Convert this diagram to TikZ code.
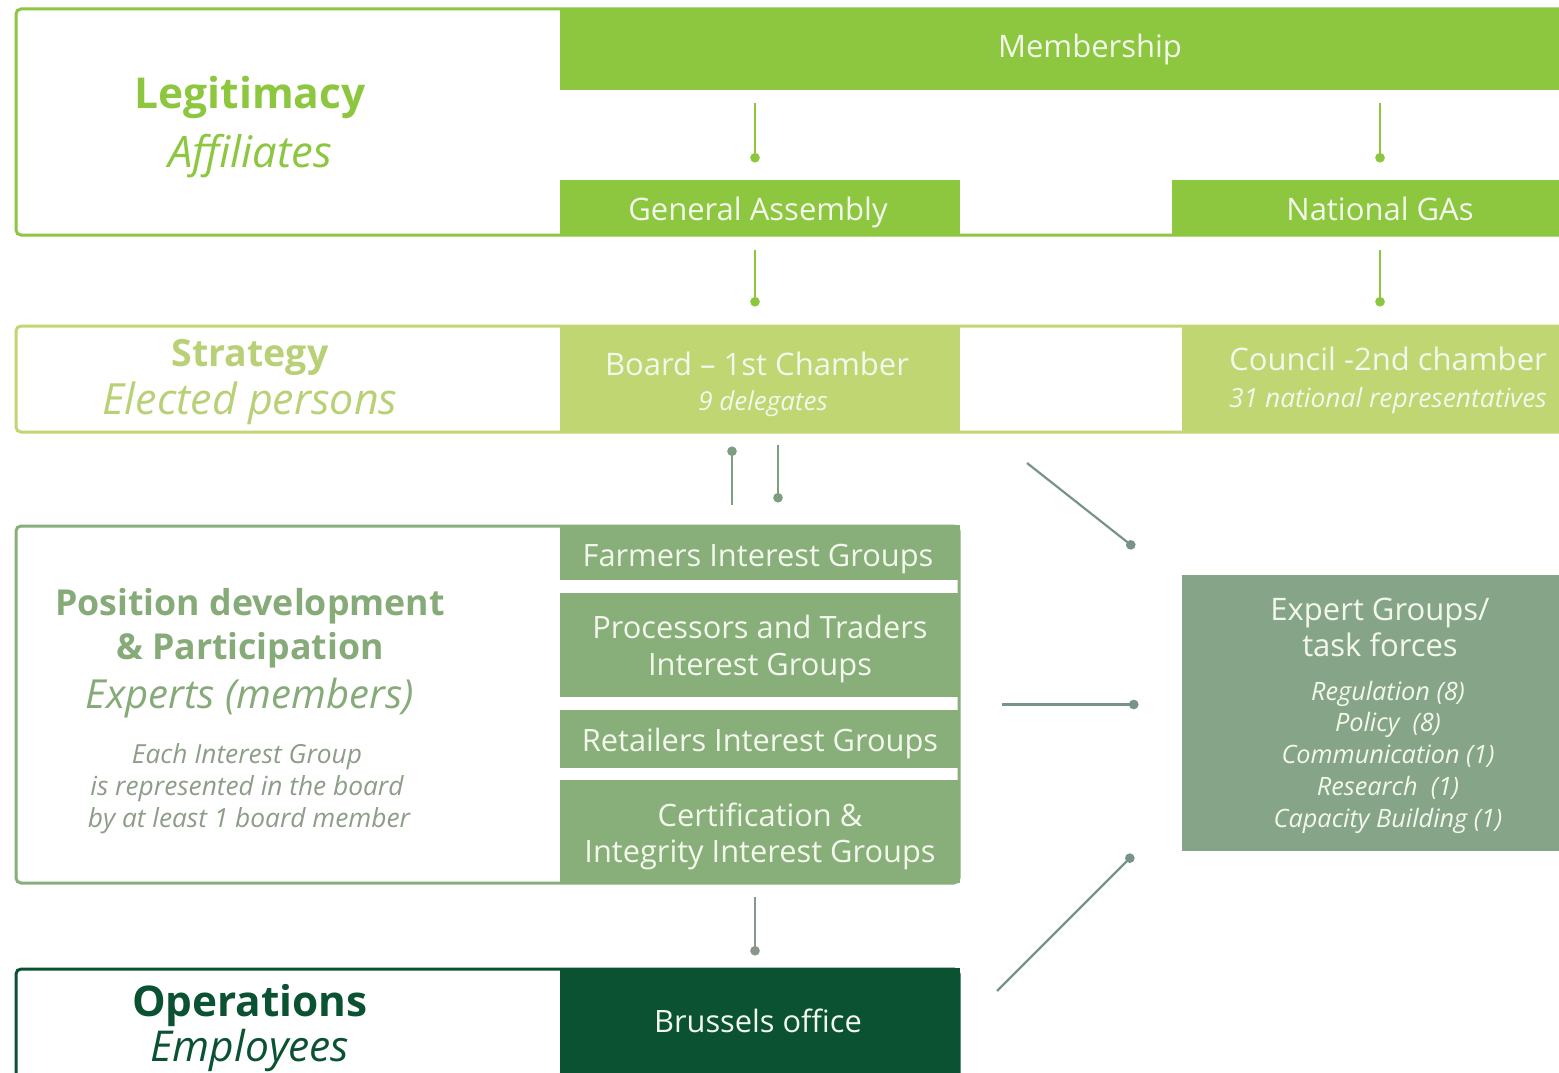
\documentclass[tikz,border=0pt]{standalone}
\usepackage{fontspec}
\setmainfont{Open Sans}
\usetikzlibrary{arrows.meta}
\definecolor{lgreen}{HTML}{8DC63F}
\definecolor{sgreen}{HTML}{BFD673}
\definecolor{stext}{HTML}{B9D176}
\definecolor{pgreen}{HTML}{88AE7A}
\definecolor{ptext}{HTML}{86AA78}
\definecolor{gtext}{HTML}{8E9D8A}
\definecolor{egreen}{HTML}{86A588}
\definecolor{dgreen}{HTML}{0B5233}
\definecolor{wtext}{HTML}{F3F8EC}
\definecolor{bline}{HTML}{7D9E80}
\definecolor{dline}{HTML}{789488}
\definecolor{gline}{HTML}{8A968C}
\newcommand{\fsz}[1]{\fontsize{#1}{#1}\selectfont}
\begin{document}
\begin{tikzpicture}[x=1pt,y=-1pt,
  fillbox/.style={anchor=north west,inner sep=0,outer sep=0,draw=none},
  frame/.style={anchor=north west,inner sep=0,outer sep=0,line width=3pt,rounded corners=5pt},
  lbl/.style={anchor=base,inner sep=0,outer sep=0},
  conn/.style={line width=2.2pt,-{Circle[length=9.5pt,width=9.5pt]}},
  wl/.style={lbl,text=wtext},
]
\useasboundingbox (0,0) rectangle (1559,1073);
\clip (0,0) rectangle (1559,1073);
\fill[white] (0,0) rectangle (1559,1073);

% ---------- fill boxes ----------
\node[fillbox,fill=lgreen,minimum width=1060pt,minimum height=82pt] (memb) at (560,8) {};
\node[fillbox,fill=lgreen,minimum width=400pt,minimum height=56pt] (ga) at (560,180) {};
\node[fillbox,fill=lgreen,minimum width=416pt,minimum height=56pt] (nga) at (1172,180) {};
\node[fillbox,fill=sgreen,minimum width=400pt,minimum height=107pt] (board) at (560,325) {};
\node[fillbox,fill=sgreen,minimum width=412pt,minimum height=107pt] (council) at (1182,325) {};
\node[fillbox,fill=pgreen,minimum width=400pt,minimum height=55pt] (farm) at (560,525) {};
\node[fillbox,fill=pgreen,minimum width=400pt,minimum height=104pt] (proc) at (560,593) {};
\node[fillbox,fill=pgreen,minimum width=400pt,minimum height=58pt] (ret) at (560,710) {};
\node[fillbox,fill=pgreen,minimum width=400pt,minimum height=103pt] (cert) at (560,780) {};
\node[fillbox,fill=egreen,minimum width=396pt,minimum height=276pt] (expert) at (1182,575) {};
\node[fillbox,fill=dgreen,minimum width=400pt,minimum height=130pt] (bru) at (560,968) {};

% ---------- frames ----------
\node[frame,draw=lgreen,minimum width=1604pt,minimum height=226pt] (legf) at (16,9) {};
\node[frame,draw=sgreen,minimum width=1604pt,minimum height=106pt] (stratf) at (16,326) {};
\node[frame,draw=pgreen,minimum width=943pt,minimum height=357pt] (posf) at (16,526) {};
\node[frame,draw=dgreen,minimum width=943pt,minimum height=130pt] (opsf) at (16,969) {};

% ---------- labels ----------
\node[lbl,text=lgreen,font=\fsz{42.5}\bfseries] (tleg) at (250,109) {Legitimacy};
\node[lbl,text=lgreen,font=\fsz{43.5}\itshape] (taff) at (250,167) {Affiliates};
\node[wl,font=\fsz{31}] (tmemb) at (1090,57.5) {Membership};
\node[wl,font=\fsz{31}] (tga) at (758,220.5) {General Assembly};
\node[wl,font=\fsz{31}] (tnga) at (1380,220.5) {National GAs};

\node[lbl,text=stext,font=\fsz{37.5}\bfseries] (tstr) at (250,366) {Strategy};
\node[lbl,text=stext,font=\fsz{43}\itshape] (tel) at (250,414) {Elected persons};
\node[wl,font=\fsz{31}] (tboard) at (757,375.5) {Board – 1st Chamber};
\node[wl,font=\fsz{26}\itshape] (tdel) at (763,410.5) {9 delegates};
\node[wl,font=\fsz{31}] (tcou) at (1388,370.5) {Council -2nd chamber};
\node[wl,font=\fsz{26.4}\itshape] (tnat) at (1388,407.5) {31 national representatives};

\node[lbl,text=ptext,font=\fsz{35.7}\bfseries] (tpos1) at (250,615.5) {Position development};
\node[lbl,text=ptext,font=\fsz{35.7}\bfseries] (tpos2) at (250,659.5) {\& Participation};
\node[lbl,text=ptext,font=\fsz{40}\itshape] (texp) at (250,708.5) {Experts (members)};
\node[lbl,text=gtext,font=\fsz{26.3}\itshape] (teach1) at (247,763) {Each Interest Group};
\node[lbl,text=gtext,font=\fsz{26.3}\itshape] (teach2) at (247,795) {is represented in the board};
\node[lbl,text=gtext,font=\fsz{26.3}\itshape] (teach3) at (249,827) {by at least 1 board member};

\node[wl,font=\fsz{30.8}] (tfarm) at (758,566) {Farmers Interest Groups};
\node[wl,font=\fsz{30.8}] (tproc1) at (760,638) {Processors and Traders};
\node[wl,font=\fsz{30.8}] (tproc2) at (760,675) {Interest Groups};
\node[wl,font=\fsz{30.8}] (tret) at (760,751) {Retailers Interest Groups};
\node[wl,font=\fsz{30.8}] (tcert1) at (760,826) {Certification \&};
\node[wl,font=\fsz{30.8}] (tcert2) at (760,862) {Integrity Interest Groups};

\node[wl,font=\fsz{31}] (tex1) at (1380,620.5) {Expert Groups/};
\node[wl,font=\fsz{31}] (tex2) at (1380,656.5) {task forces};
\node[wl,font=\fsz{25.3}\itshape] (tr1) at (1388,700) {Regulation (8)};
\node[wl,font=\fsz{25.3}\itshape] (tr2) at (1388,731) {Policy\ \ (8)};
\node[wl,font=\fsz{25.3}\itshape] (tr3) at (1388,763) {Communication (1)};
\node[wl,font=\fsz{25.3}\itshape] (tr4) at (1388,795) {Research\ \ (1)};
\node[wl,font=\fsz{25.3}\itshape] (tr5) at (1388,827) {Capacity Building (1)};

\node[lbl,text=dgreen,font=\fsz{42.3}\bfseries] (tops) at (250,1016) {Operations};
\node[lbl,text=dgreen,font=\fsz{42.5}\itshape] (temp) at (250,1061) {Employees};
\node[wl,font=\fsz{30.8}] (tbru) at (758,1032) {Brussels office};

% ---------- connectors ----------
\draw[conn,lgreen,shorten <=13pt,shorten >=17.5pt] ([xshift=-5pt]ga.north |- memb.south) -- ([xshift=-5pt]ga.north);
\draw[conn,lgreen,shorten <=13pt,shorten >=17.5pt] (nga.north |- memb.south) -- (nga.north);
\draw[conn,lgreen,shorten <=14pt,shorten >=18.5pt] ([xshift=-5pt]ga.south) -- ([xshift=-5pt]ga.south |- board.north);
\draw[conn,lgreen,shorten <=14pt,shorten >=18.5pt] (nga.south) -- (nga.south |- council.north);
\draw[conn,bline,shorten <=20pt,shorten >=14.5pt] ([xshift=-28pt]farm.north) -- ([xshift=-28pt]board.south);
\draw[conn,bline,shorten <=13pt,shorten >=22.5pt] ([xshift=18pt]board.south) -- ([xshift=18pt]farm.north);
\draw[conn,dline] ([shift={(67,31)}]board.south east) -- ([shift={(-47.5,-27.2)}]expert.north west);
\draw[conn,dline,shorten <=43pt,shorten >=43.5pt] (posf.east) -- (expert.west |- posf.east);
\draw[conn,dline] ([shift={(38,22)}]opsf.north east) -- ([shift={(-48.8,3.8)}]expert.south west);
\draw[conn,gline,shorten <=14pt,shorten >=13.5pt] ([xshift=-5pt]cert.south) -- ([xshift=-5pt]cert.south |- opsf.north);
\end{tikzpicture}
\end{document}
